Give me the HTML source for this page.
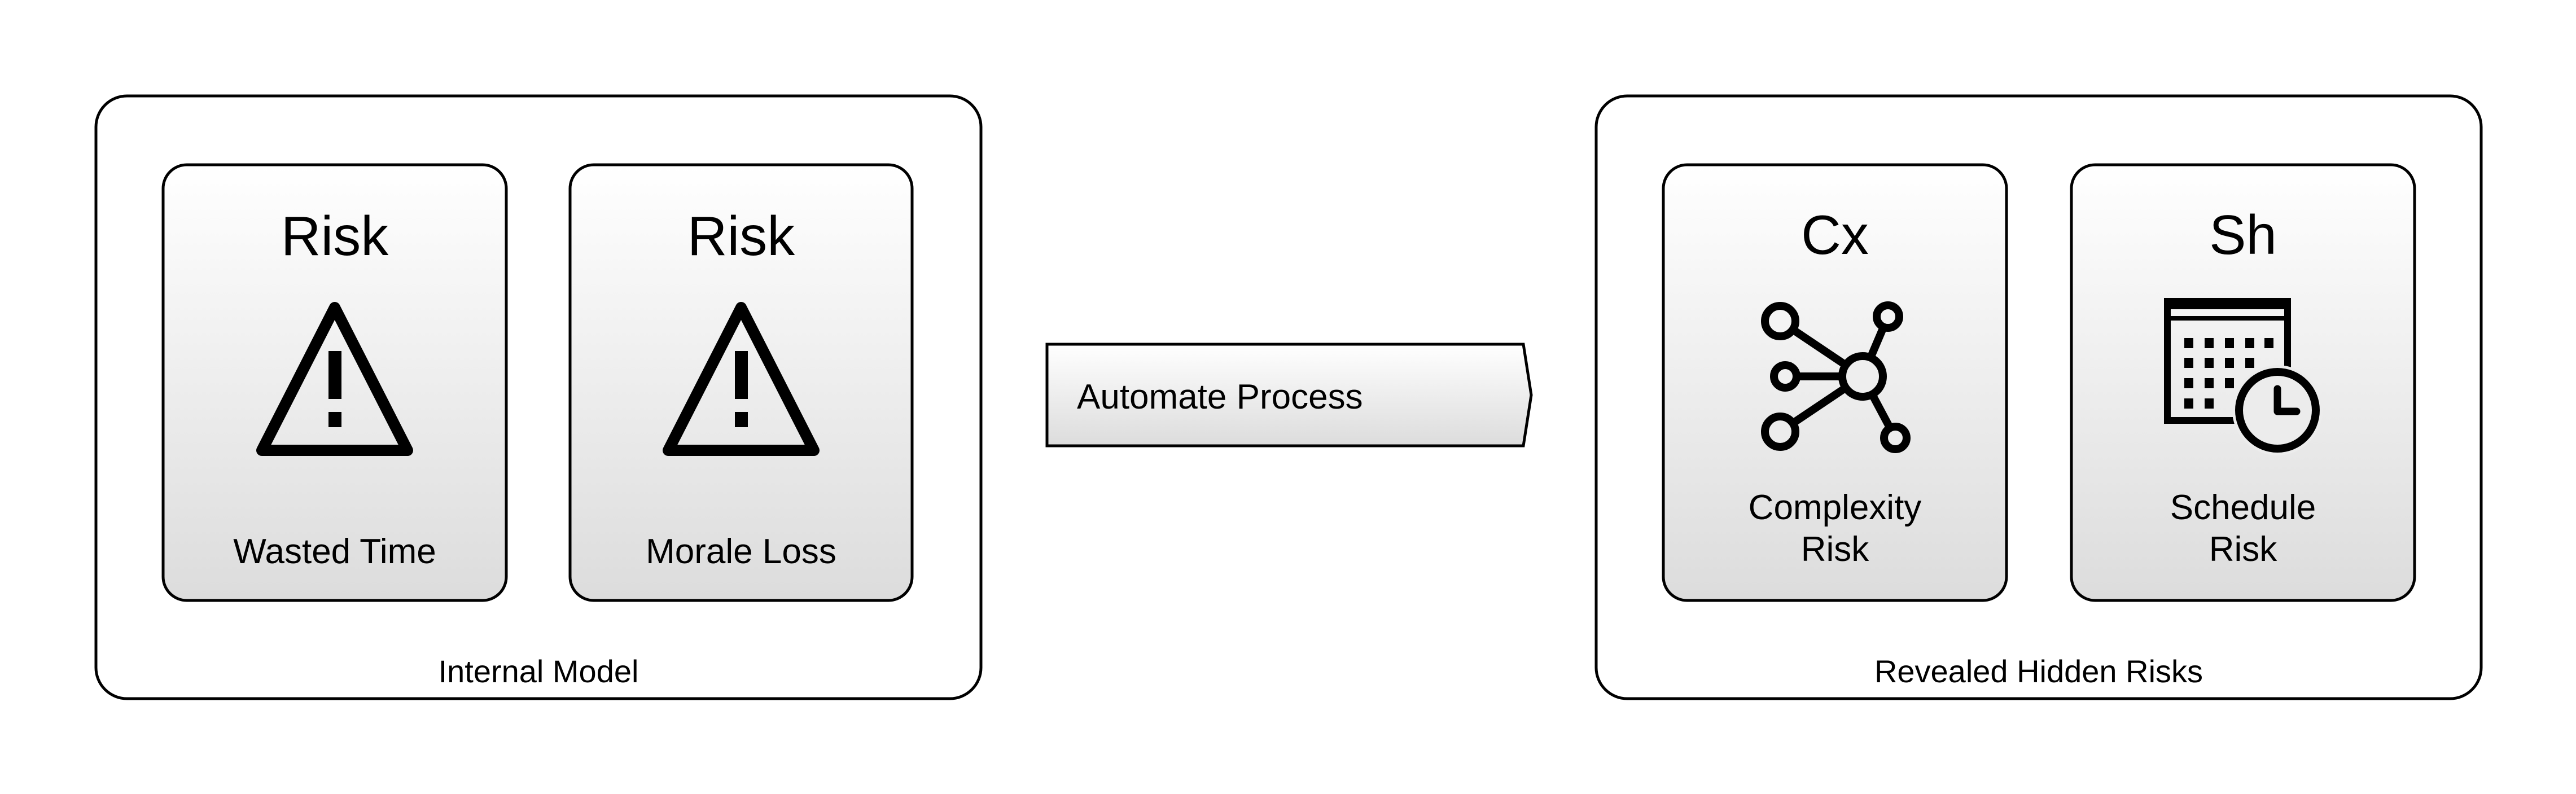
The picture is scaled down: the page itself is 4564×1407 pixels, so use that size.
<!DOCTYPE html>
<html><head><meta charset="utf-8"><style>
html,body{margin:0;padding:0;background:#fff;}
svg{display:block;}
text{font-family:"Liberation Sans",sans-serif;fill:#000;}
</style></head><body>
<svg width="4564" height="1407" viewBox="0 0 4564 1407" xmlns="http://www.w3.org/2000/svg">
<defs>
<linearGradient id="g" x1="0" y1="0" x2="0" y2="1">
<stop offset="0" stop-color="#ffffff"/><stop offset="1" stop-color="#dcdcdc"/>
</linearGradient>
</defs>
<rect x="170" y="170" width="1568" height="1068" rx="55" fill="#fff" stroke="#000" stroke-width="5"/>
<rect x="2828" y="170" width="1568" height="1068" rx="55" fill="#fff" stroke="#000" stroke-width="5"/>
<text x="954" y="1209" font-size="56" text-anchor="middle">Internal Model</text>
<text x="3612" y="1209" font-size="56" text-anchor="middle">Revealed Hidden Risks</text>

<rect x="289" y="292" width="608" height="772" rx="42" fill="url(#g)" stroke="#000" stroke-width="5"/>
<rect x="1010" y="292" width="606" height="772" rx="42" fill="url(#g)" stroke="#000" stroke-width="5"/>
<rect x="2947" y="292" width="608" height="772" rx="42" fill="url(#g)" stroke="#000" stroke-width="5"/>
<rect x="3670" y="292" width="608" height="772" rx="42" fill="url(#g)" stroke="#000" stroke-width="5"/>

<text x="593" y="452" font-size="98" text-anchor="middle">Risk</text>
<text x="1313" y="452" font-size="98" text-anchor="middle">Risk</text>
<text x="3251" y="450" font-size="98" text-anchor="middle">Cx</text>
<text x="3974" y="450" font-size="98" text-anchor="middle">Sh</text>

<text x="593" y="998" font-size="62" text-anchor="middle">Wasted Time</text>
<text x="1313" y="998" font-size="62" text-anchor="middle">Morale Loss</text>
<text x="3251" y="920" font-size="62" text-anchor="middle">Complexity</text>
<text x="3251" y="994" font-size="62" text-anchor="middle">Risk</text>
<text x="3974" y="920" font-size="62" text-anchor="middle">Schedule</text>
<text x="3974" y="994" font-size="62" text-anchor="middle">Risk</text>

<g fill="none" stroke="#000" stroke-width="20" stroke-linejoin="round">
<polygon points="593,545 464,798 722,798"/>
<polygon points="1313,545 1184,798 1442,798"/>
</g>
<rect x="582" y="622" width="23" height="85" fill="#000"/>
<rect x="582" y="730" width="23" height="27" fill="#000"/>
<rect x="1302" y="622" width="23" height="85" fill="#000"/>
<rect x="1302" y="730" width="23" height="27" fill="#000"/>

<polygon points="1855,610 2699,610 2713,700 2699,790 1855,790" fill="url(#g)" stroke="#000" stroke-width="5"/>
<text x="1908" y="724" font-size="62">Automate Process</text>

<g stroke="#000" stroke-width="14" fill="none">
<line x1="3300" y1="667" x2="3154" y2="569"/>
<line x1="3300" y1="667" x2="3345" y2="561"/>
<line x1="3300" y1="667" x2="3163" y2="667"/>
<line x1="3300" y1="667" x2="3154" y2="765"/>
<line x1="3300" y1="667" x2="3358" y2="776"/>
<circle cx="3300" cy="667" r="36" fill="#eee"/>
<circle cx="3154" cy="569" r="27" fill="#f4f4f4"/>
<circle cx="3345" cy="561" r="20" fill="#f4f4f4"/>
<circle cx="3163" cy="667" r="20" fill="#f0f0f0"/>
<circle cx="3154" cy="765" r="27" fill="#ececec"/>
<circle cx="3358" cy="776" r="20" fill="#ececec"/>
</g>

<g>
<rect x="3840" y="534" width="213" height="211" fill="none" stroke="#000" stroke-width="12"/>
<rect x="3834" y="528" width="225" height="20" fill="#000"/>
<rect x="3834" y="560" width="225" height="8" fill="#000"/>
<g fill="#000">
<rect x="3870" y="599" width="16" height="18"/><rect x="3906" y="599" width="16" height="18"/><rect x="3942" y="599" width="16" height="18"/><rect x="3978" y="599" width="16" height="18"/><rect x="4012" y="599" width="16" height="18"/>
<rect x="3870" y="634" width="16" height="18"/><rect x="3906" y="634" width="16" height="18"/><rect x="3942" y="634" width="16" height="18"/><rect x="3978" y="634" width="16" height="18"/>
<rect x="3870" y="670" width="16" height="18"/><rect x="3906" y="670" width="16" height="18"/><rect x="3942" y="670" width="16" height="18"/>
<rect x="3870" y="706" width="16" height="18"/><rect x="3906" y="706" width="16" height="18"/>
</g>
<circle cx="4035" cy="727" r="80" fill="#ececec"/>
<circle cx="4035" cy="727" r="68" fill="#ececec" stroke="#000" stroke-width="14"/>
<polyline points="4035,689 4035,729 4069,729" fill="none" stroke="#000" stroke-width="13" stroke-linecap="round" stroke-linejoin="round"/>
</g>
</svg>
</body></html>
